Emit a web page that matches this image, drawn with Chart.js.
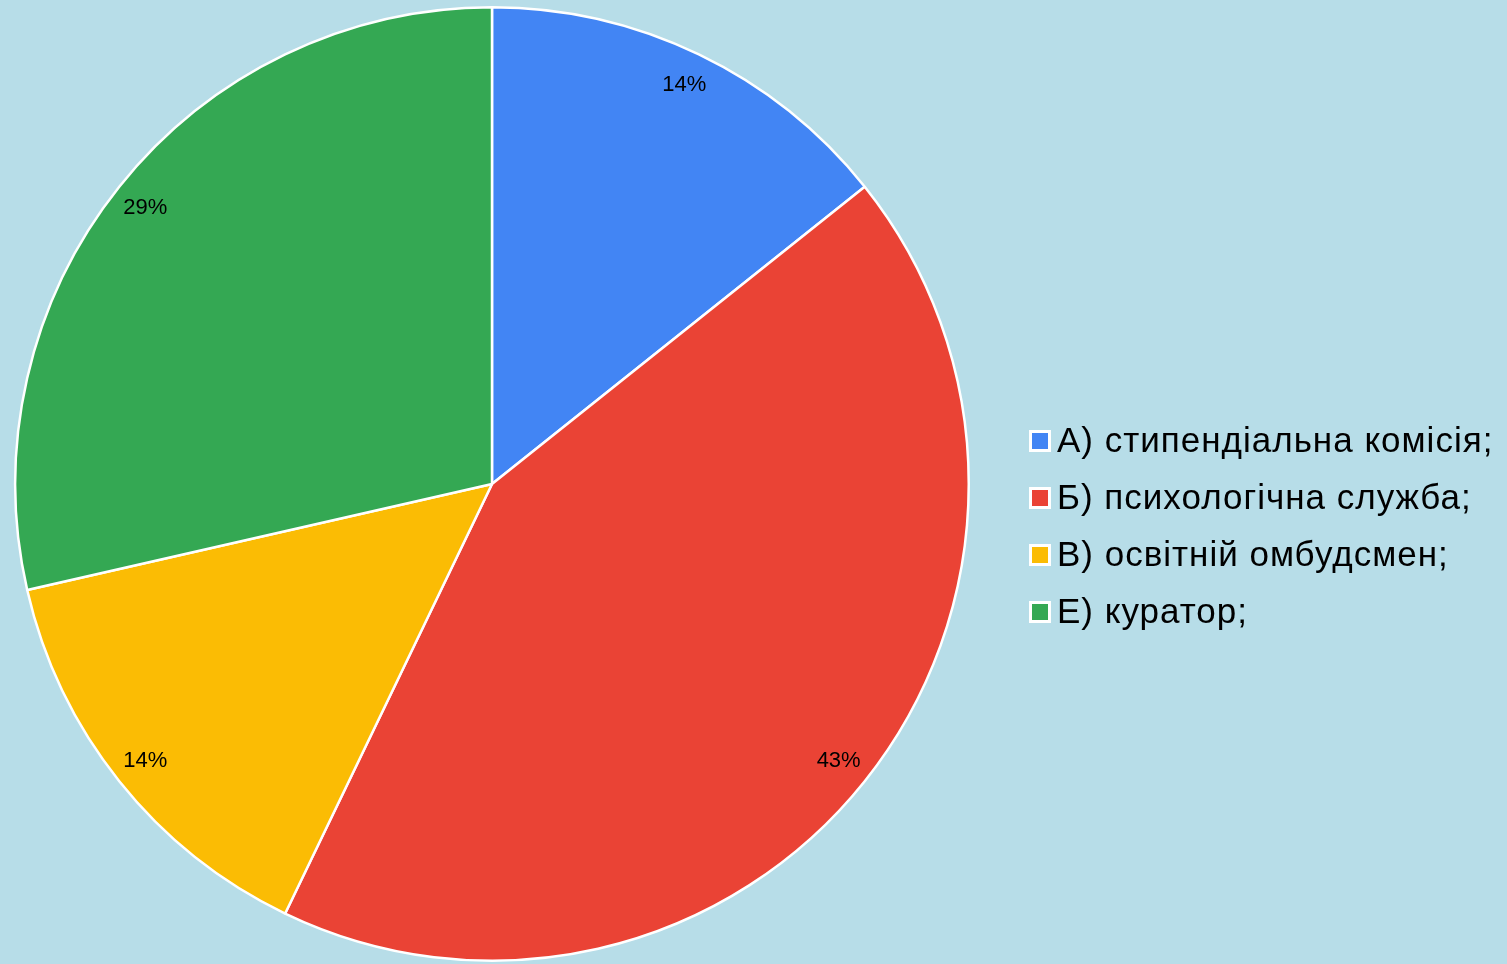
<!DOCTYPE html>
<html>
<head>
<meta charset="utf-8">
<script src="https://cdn.jsdelivr.net/npm/chart.js@4/dist/chart.umd.min.js"></script>
<style>
  html, body { margin: 0; padding: 0; background: #b7dde8; }
  #wrap { width: 1507px; height: 964px; }
</style>
</head>
<body>
<div id="wrap"><canvas id="chart"></canvas></div>
<script>
const labels = [
  "А) стипендіальна комісія;",
  "Б) психологічна служба;",
  "В) освітній омбудсмен;",
  "Е) куратор;"
];
const values = [1, 3, 1, 2];
const colors = ["#4285f4", "#ea4335", "#fbbc04", "#34a853"];

const fontFamily = "'Liberation Sans', Arial, sans-serif";

// percentage text inside each slice, near the rim
const sliceLabels = {
  id: "sliceLabels",
  afterDatasetsDraw(chart) {
    const ctx = chart.ctx;
    const meta = chart.getDatasetMeta(0);
    const total = values.reduce((a, b) => a + b, 0);
    ctx.save();
    ctx.font = "22px " + fontFamily;
    ctx.fillStyle = "#000";
    ctx.textAlign = "center";
    ctx.textBaseline = "middle";
    meta.data.forEach((arc, i) => {
      const mid = (arc.startAngle + arc.endAngle) / 2;
      const r = arc.outerRadius * 0.93;
      ctx.fillText(Math.round(values[i] / total * 100) + "%",
        arc.x + Math.cos(mid) * r, arc.y + Math.sin(mid) * r);
    });
    ctx.restore();
  }
};

// legend to the right of the pie, square with white frame + label
const sideLegend = {
  id: "sideLegend",
  afterDraw(chart) {
    const ctx = chart.ctx;
    const area = chart.chartArea;
    const rowH = 57;
    const x = area.right + 59;
    const y0 = 441;
    ctx.save();
    ctx.font = "35px " + fontFamily;
    ctx.letterSpacing = "1px";
    ctx.textBaseline = "middle";
    ctx.textAlign = "left";
    labels.forEach((t, i) => {
      const cy = y0 + i * rowH;
      ctx.fillStyle = "#ffffff";
      ctx.fillRect(x, cy - 11, 22, 22);
      ctx.fillStyle = colors[i];
      ctx.fillRect(x + 3, cy - 8, 16, 16);
      ctx.fillStyle = "#000";
      ctx.fillText(t, x + 28, cy + 1);
    });
    ctx.restore();
  }
};

new Chart(document.getElementById("chart"), {
  type: "pie",
  data: {
    labels: labels,
    datasets: [{
      data: values,
      backgroundColor: colors,
      borderColor: "#ffffff",
      borderWidth: 2.5
    }]
  },
  options: {
    responsive: true,
    maintainAspectRatio: false,
    animation: false,
    layout: {
      padding: { left: 14, top: 6, bottom: 2, right: 537 }
    },
    plugins: {
      legend: { display: false },
      tooltip: { enabled: false }
    }
  },
  plugins: [sliceLabels, sideLegend]
});
</script>
</body>
</html>
